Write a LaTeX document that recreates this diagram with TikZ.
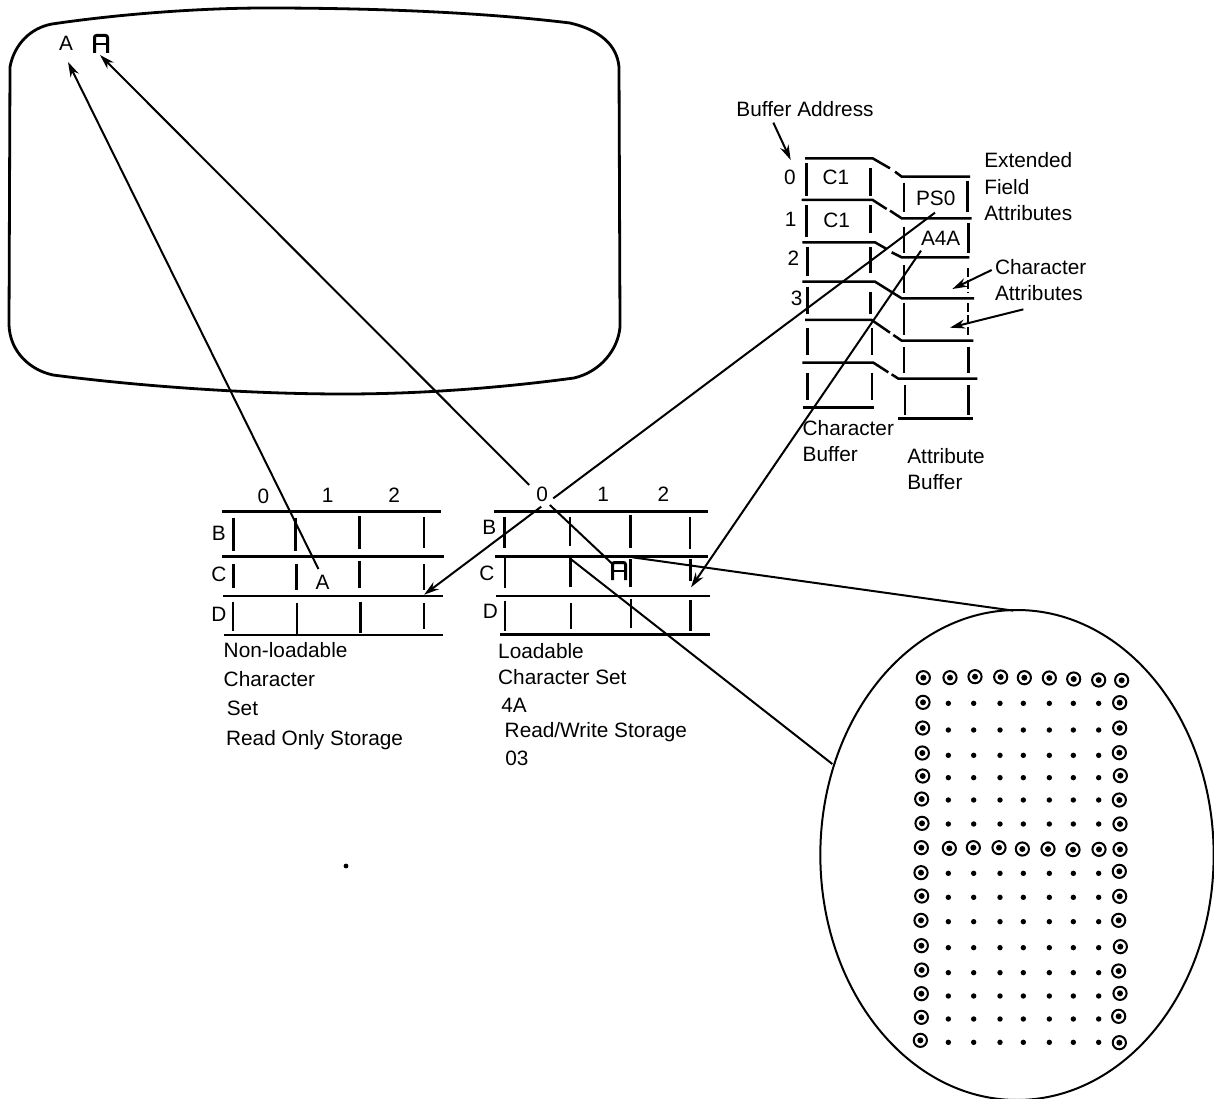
\documentclass[tikz,border=0pt]{standalone}
\usepackage{fontspec}
\setmainfont{Liberation Sans}
\usetikzlibrary{arrows.meta}
\tikzset{
  lbl/.style={inner sep=0pt,outer sep=0pt,anchor=base,font=\fontsize{20.8}{23}\selectfont},
  lblw/.style={lbl,anchor=base west},
  rule/.style={line width=2.5pt},
  bar/.style={line width=2.6pt},
  thinbar/.style={line width=1.8pt,dash pattern=on 9pt off 3pt},
  conn/.style={line width=2pt},
  arrowed/.style={conn,-{Stealth[length=15pt,width=9pt]}},
  outline/.style={line width=2.8pt},
  lens/.style={line width=2pt},
  dmA/.pic={\draw[line width=3pt,rounded corners=2pt] (-6.5,9)--(-6.5,-8.5)--(6.5,-8.5)--(6.5,9);
            \draw[line width=2.6pt] (-6.5,0)--(6.5,0);}
}
\begin{document}
\begin{tikzpicture}[x=1pt,y=-1pt]
\useasboundingbox (0,0) rectangle (1214,1099);
% screen
\draw[outline] (10,67) .. controls (14,45) and (30,28) .. (52,24)
  .. controls (120,14) and (200,8) .. (266,8)
  .. controls (370,8) and (480,12) .. (570,23)
  .. controls (600,30) and (617,45) .. (619,67)
  -- (620,327) .. controls (618,350) and (600,372) .. (574,378)
  .. controls (500,388) and (420,394) .. (344,394)
  .. controls (240,394) and (130,385) .. (53,375)
  .. controls (30,370) and (10,352) .. (9,325) -- cycle;
\node[lbl] (scrA) at (66,51) {A};
\pic at (101,44) {dmA};
\pic at (619,571) {dmA};
\coordinate (scrAtip) at (68,62);
\coordinate (scrFtip) at (100,55);

% stray speck
\fill (346,866) circle[radius=2.4pt];

% character sets (x and y as in a 2.904 x 3 crop from 190,470)
\begin{scope}[shift={(190,470)},x=0.34435pt,y=-0.33333pt]
  % left grid
  \draw[rule] (92,124)--(730,124) (92,260)--(738,260) (96,378)--(736,378) (100,495)--(734,495);
  \foreach \vx/\vy/\vz in {127/143/243,307/143/243,492/138/237,679/140/233,
                           127/283/355,310/283/360,492/272/355,679/283/360,
                           125/395/484,311/400/495,495/395/490,679/398/476}
     \draw[bar] (\vx,\vy)--(\vx,\vz);
  \node[lbl] (g1a) at (213,99) {0};
  \node[lbl] (g1b) at (400,97) {1};
  \node[lbl] (g1c) at (593,98) {2};
  \node[lbl] (g1B) at (84,211) {B};
  \node[lbl] (g1C) at (84,333) {C};
  \node[lbl] (g1D) at (84,455) {D};
  \node[lbl] (nonA) at (385,358) {A};
  \node[lblw] (t1a) at (98,561) {Non-loadable};
  \node[lblw] (t1b) at (98,650) {Character};
  \node[lblw] (t1c) at (107,737) {Set};
  \node[lblw] (t1d) at (105,826) {Read Only Storage};
  % right grid
  \draw[rule] (883,124)--(1505,124) (885,260)--(1503,260) (888,378)--(1510,378) (900,494)--(1510,494);
  \foreach \vx/\vy/\vz in {913/140/235,1103/140/228,1279/135/235,1452/140/238,
                           915/265/354,1105/265/352,1280/268/352,1453/268/332,
                           915/392/484,1106/398/478,1281/388/475,1454/390/482}
     \draw[bar] (\vx,\vy)--(\vx,\vz);
  \node[lbl] (g2a) at (1023,95) {0};
  \node[lbl] (g2b) at (1200,93) {1};
  \node[lbl] (g2c) at (1375,95) {2};
  \node[lbl] (g2B) at (869,192) {B};
  \node[lbl] (g2C) at (862,332) {C};
  \node[lbl] (g2D) at (872,445) {D};
  \node[lblw] (t2a) at (895,566) {Loadable};
  \node[lblw] (t2b) at (895,643) {Character Set};
  \node[lblw] (t2c) at (904,727) {4A};
  \node[lblw] (t2d) at (914,802) {Read/Write Storage};
  \node[lblw] (t2e) at (916,887) {03};
  % connector ends in this crop
  \coordinate (nonAtop) at (373,297);
  \coordinate (zeroNW) at (985,45);
  \coordinate (zeroNE) at (1055,85);
  \coordinate (zeroSW) at (1020,110);
  \coordinate (zeroSE) at (1045,105);
  \coordinate (leftTip) at (680,374);
  \coordinate (rightTip) at (1455,352);
  \coordinate (glyphNW) at (1230,285);
  \coordinate (glyphNE) at (1285,262);
  \coordinate (cellC) at (1103,265);
\end{scope}

% buffers (crop from 720,90 at 3x)
\begin{scope}[shift={(720,90)},x=0.33333pt,y=-0.33333pt]
  \node[lbl] (ba) at (255,80) {Buffer Address};
  \coordinate (baA) at (160,98); \coordinate (baB) at (212,210);
  \draw[rule] (255,205)--(458,205)--(510,235) (525,245)--(545,260)--(750,260);
  \draw[rule] (245,330)--(458,330)--(500,357) (510,362)--(545,385)--(755,385);
  \draw[rule] (247,457)--(465,457)--(500,477) (515,487)--(545,502)--(748,502);
  \draw[rule] (247,575)--(465,575)--(545,625)--(762,625);
  \draw[rule] (255,690)--(455,690)--(510,728) (520,735)--(545,752)--(760,752);
  \draw[rule] (247,818)--(460,818)--(505,847) (515,853)--(535,866)--(772,866);
  \draw[rule] (250,952)--(463,952);
  \draw[rule] (535,985)--(760,985);
  \foreach \vx/\vy/\vz in {260/220/318,452/235/318,260/345/440,452/345/430,
                           262/472/558,452/472/550,262/590/672,452/605/672,
                           262/715/795,456/715/795,262/848/930,456/848/930,
                           552/278/367,743/272/365,552/410/490,745/400/490,
                           552/525/608,552/640/735,552/770/848,745/770/848,
                           555/885/975,745/885/975}
     \draw[bar] (\vx,\vy)--(\vx,\vz);
  \draw[thinbar] (743,535)--(743,610);
  \draw[thinbar] (743,640)--(743,735);
  \node[lbl] (n0) at (210,285) {0};
  \node[lbl] (n1) at (212,410) {1};
  \node[lbl] (n2) at (220,528) {2};
  \node[lbl] (n3) at (230,648) {3};
  \node[lbl] (c1a) at (348,285) {C1};
  \node[lbl] (c1b) at (350,412) {C1};
  \node[lbl] (ps0) at (647,347) {PS0};
  \node[lbl] (a4a) at (662,467) {A4A};
  \node[lblw] (e1) at (793,232) {Extended};
  \node[lblw] (e2) at (793,314) {Field};
  \node[lblw] (e3) at (793,393) {Attributes};
  \node[lblw] (ca1) at (825,553) {Character};
  \node[lblw] (ca2) at (825,633) {Attributes};
  \node[lblw] (cb1) at (248,1036) {Character};
  \node[lblw] (cb2) at (248,1115) {Buffer};
  \node[lblw] (ab1) at (562,1120) {Attribute};
  \node[lblw] (ab2) at (562,1200) {Buffer};
  \coordinate (ps0end) at (645,368);
  \coordinate (a4aend) at (603,482);
  \coordinate (caA) at (815,540); \coordinate (caB) at (697,597);
  \coordinate (cbA) at (910,658); \coordinate (cbB) at (690,713);
\end{scope}

% enlarged cell (crop from 820,600 at 3x)
\begin{scope}[shift={(820,600)},x=0.33333pt,y=-0.33333pt]
  \draw[lens] (591,765) ellipse [x radius=590, y radius=735];
  \coordinate (lensTop) at (580,32);
  \coordinate (lensLeft) at (37,492);
  \foreach \a/\b in {310/233,309/307,308/384,307/459,308/528,305/597,306/670,304/743,
                     303/818,305/888,303/961,304/1037,305/1110,304/1181,304/1252,301/1321,
                     905/241,899/308,899/384,898/458,901/527,898/600,900/672,900/748,
                     898/814,899/889,896/961,901/1040,896/1113,900/1180,896/1249,898/1328,
                     390/233,465/230,542/231,613/233,688/234,761/237,836/240,
                     388/745,460/743,537/743,607/747,684/747,759/749,837/748}{
    \draw[line width=2pt] (\a,\b) circle[radius=6.6pt];
    \fill (\a,\b) circle[radius=3pt];
  }
  \foreach \r in {310,390,466,533,600,672,820,892,965,1043,1118,1188,1257,1327}{
    \foreach \c in {385,461,540,610,688,760,836}{
      \fill (\c,\r) circle[radius=2.7pt];
    }
  }
\end{scope}

% connectors
\draw[arrowed] (nonAtop)--(scrAtip);
\draw[arrowed] (zeroNW)--(scrFtip);
\draw[conn] (ps0end)--(zeroNE);
\draw[arrowed] (zeroSW)--(leftTip);
\draw[arrowed] (a4aend)--(rightTip);
\draw[conn] (zeroSE)--(glyphNW);
\draw[conn] (glyphNE)--(lensTop);
\draw[conn] (cellC)--(lensLeft);
\draw[arrowed] (baA)--(baB);
\draw[arrowed] (caA)--(caB);
\draw[arrowed] (cbA)--(cbB);
\end{tikzpicture}
\end{document}
